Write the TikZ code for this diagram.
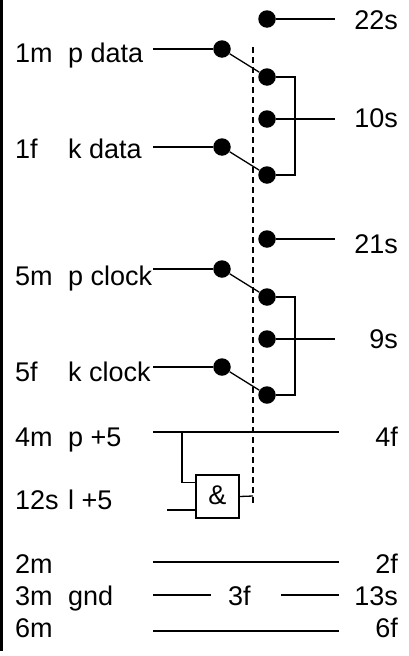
\documentclass[tikz,border=0pt]{standalone}
\usepackage{fontspec}
\setmainfont{Liberation Sans}
\tikzset{
  x=1pt,y=-1pt,
  dot/.style={circle,fill=black,draw=none,minimum size=17.5pt,inner sep=0pt},
  wire/.style={draw=black,line width=1.3pt},
  dashwire/.style={draw=black,line width=1.3pt,dash pattern=on 6pt off 4pt},
  lab/.style={anchor=base west,inner sep=0pt,font=\fontsize{27}{27}\selectfont},
  rlab/.style={anchor=base east,inner sep=0pt,font=\fontsize{27}{27}\selectfont},
  gate/.style={draw=black,line width=1.3pt,minimum size=43pt,inner sep=0pt}
}
\begin{document}
\begin{tikzpicture}
\useasboundingbox (0,0) rectangle (409,656);
\fill[black] (0,0) rectangle (2.5,651);
% left labels
\node[lab] (t1m) at (15,62) {1m};
\node[lab] (tpd) at (68,62) {p data};
\node[lab] (t1f) at (15,158) {1f};
\node[lab] (tkd) at (68,158) {k data};
\node[lab] (t5m) at (15,285) {5m};
\node[lab] (tpc) at (68,285) {p clock};
\node[lab] (t5f) at (15,381) {5f};
\node[lab] (tkc) at (68,381) {k clock};
\node[lab] (t4m) at (15,446) {4m};
\node[lab] (tp5) at (68,446) {p +5};
\node[lab] (t12) at (15,509) {12s};
\node[lab] (tl5) at (68,509) {l +5};
\node[lab] (t2m) at (15,573) {2m};
\node[lab] (t3m) at (15,605) {3m};
\node[lab] (tgn) at (68,605) {gnd};
\node[lab] (t6m) at (15,637) {6m};
% right labels
\node[rlab] (t22) at (398,29) {22s};
\node[rlab] (t10) at (398,127) {10s};
\node[rlab] (t21) at (398,253) {21s};
\node[rlab] (t9) at (398,348) {9s};
\node[rlab] (t4f) at (398,446) {4f};
\node[rlab] (t2f) at (398,573) {2f};
\node[rlab] (t13) at (398,605) {13s};
\node[rlab] (t6f) at (398,637) {6f};
\node[lab] (t3f) at (228,605) {3f};
% dots
\node[dot] (a0) at (267,19) {};
\node[dot] (a1) at (267,77) {};
\node[dot] (a2) at (267,119) {};
\node[dot] (a3) at (267,175) {};
\node[dot] (b1) at (222,49) {};
\node[dot] (b2) at (222,147) {};
\node[dot] (c0) at (267,239) {};
\node[dot] (c1) at (267,297) {};
\node[dot] (c2) at (267,339) {};
\node[dot] (c3) at (267,395) {};
\node[dot] (d1) at (222,269) {};
\node[dot] (d2) at (222,367) {};
% gate
\node[gate] (and) at (217.5,496.5) {};
\node[inner sep=0pt,anchor=base,font=\fontsize{27}{27}\selectfont] (amp) at (217.5,504.5) {\&};
% free ends
\coordinate (e22) at (335,19);
\coordinate (e10) at (335,119);
\coordinate (e21) at (335,239);
\coordinate (e9) at (335,339);
\coordinate (s1) at (153,49);
\coordinate (s2) at (153,147);
\coordinate (s3) at (153,269);
\coordinate (s4) at (153,367);
\coordinate (v1) at (295,77);
\coordinate (v2) at (295,175);
\coordinate (v3) at (295,297);
\coordinate (v4) at (295,395);
\coordinate (p1) at (153,432);
\coordinate (p2) at (339,432);
\coordinate (p3) at (182,432);
\coordinate (p4) at (182,482.5);
\coordinate (l5) at (167,510);
\coordinate (dsh1) at (253,47);
\coordinate (dsh2) at (253,505);
\coordinate (dsh3) at (253,496);
\coordinate (g1a) at (153,562);
\coordinate (g1b) at (339,562);
\coordinate (g2a) at (153,595);
\coordinate (g2b) at (211,595);
\coordinate (g3a) at (281,595);
\coordinate (g3b) at (339,595);
\coordinate (g4a) at (153,631);
\coordinate (g4b) at (339,631);
% wires
\draw[dashwire] (dsh1) -- (dsh2);
\draw[wire] (a0) -- (e22);
\draw[wire] (a2) -- (e10);
\draw[wire] (c0) -- (e21);
\draw[wire] (c2) -- (e9);
\draw[wire] (s1) -- (b1);
\draw[wire] (s2) -- (b2);
\draw[wire] (s3) -- (d1);
\draw[wire] (s4) -- (d2);
\draw[wire] (b1) -- (a1);
\draw[wire] (b2) -- (a3);
\draw[wire] (d1) -- (c1);
\draw[wire] (d2) -- (c3);
\draw[wire] (a1) -- (v1) -- (v2) -- (a3);
\draw[wire] (c1) -- (v3) -- (v4) -- (c3);
\draw[wire] (p1) -- (p2);
\draw[wire] (p3) -- (p4) -- (and.west |- p4);
\draw[wire] (l5) -- (and.west |- l5);
\draw[wire] (and.east) -- (dsh3);
\draw[wire] (g1a) -- (g1b);
\draw[wire] (g2a) -- (g2b);
\draw[wire] (g3a) -- (g3b);
\draw[wire] (g4a) -- (g4b);
\end{tikzpicture}
\end{document}
